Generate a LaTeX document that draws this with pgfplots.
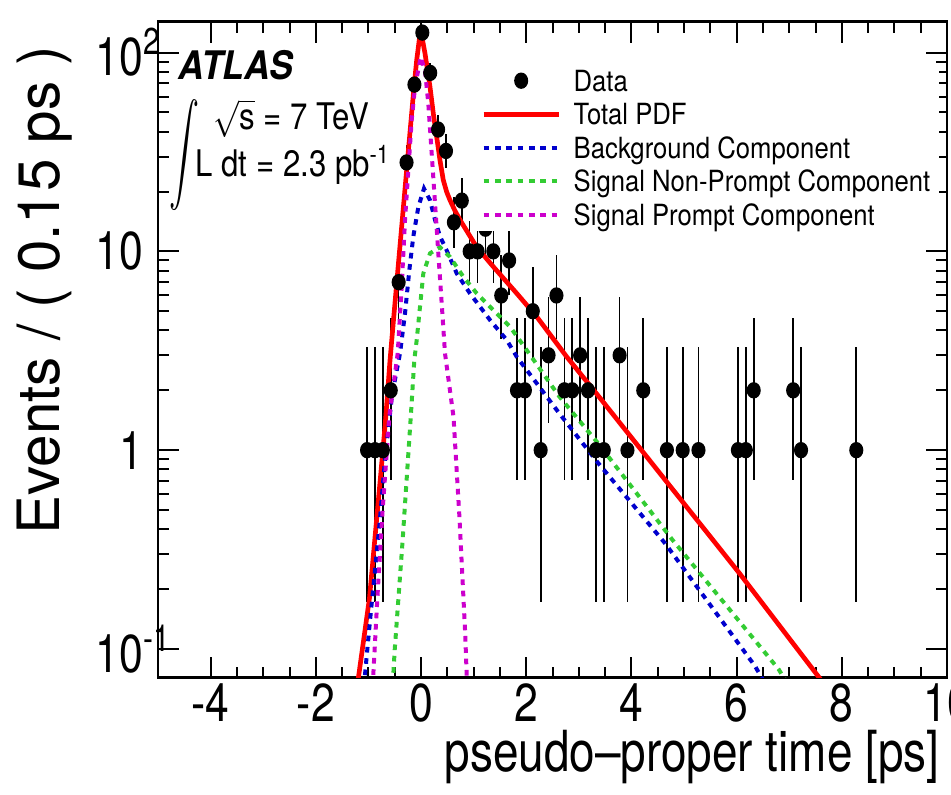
\documentclass[border=0pt]{standalone}
\usepackage{fontspec}
\setmainfont{TeX Gyre Heros}
\usepackage{graphicx}
\usepackage{pgfplots}
\usepackage{pgfplotstable}
\pgfplotsset{compat=1.18}

\definecolor{rootred}{RGB}{255,0,0}
\definecolor{rootblue}{RGB}{0,0,205}
\definecolor{rootgreen}{RGB}{51,204,51}
\definecolor{rootmag}{RGB}{204,0,204}

\pgfplotsset{
  lineleg/.style={legend image code/.code={\draw[##1] (0pt,0pt) -- (22.5pt,0pt); \path (26.3pt,0pt);}},
  dotleg/.style={legend image code/.code={\fill[black] (11.25pt,0pt) ellipse (1.9pt and 2.25pt); \path (0pt,0pt) (26.3pt,0pt);}},
}

% binned data: centre, count, lower and upper (Poisson) errors
\pgfplotstableread{
x      n    em     ep
-1.025 1    0.827  2.300
-0.875 1    0.827  2.300
-0.725 1    0.827  2.300
-0.575 2    1.292  2.638
-0.425 7    2.581  3.770
-0.275 28   5.22   6.36
-0.125 69   8.24   9.35
0.025  126  11.15  12.26
0.175  79   8.82   9.93
0.325  41   6.33   7.46
0.475  32   5.59   6.72
0.625  14   3.59   4.80
0.775  18   4.17   5.33
0.925  10   3.086  4.27
1.075  10   3.086  4.27
1.225  13   3.53   4.67
1.375  10   3.086  4.27
1.525  6    2.38   3.58
1.675  9    2.934  4.11
1.825  2    1.292  2.638
1.975  2    1.292  2.638
2.125  5    2.16   3.38
2.275  1    0.827  2.300
2.425  3    1.633  2.918
2.575  6    2.38   3.58
2.725  2    1.292  2.638
2.875  2    1.292  2.638
3.025  3    1.633  2.918
3.175  2    1.292  2.638
3.325  1    0.827  2.300
3.475  1    0.827  2.300
3.775  3    1.633  2.918
3.925  1    0.827  2.300
4.225  2    1.292  2.638
4.675  1    0.827  2.300
4.975  1    0.827  2.300
5.275  1    0.827  2.300
6.025  1    0.827  2.300
6.175  1    0.827  2.300
6.325  2    1.292  2.638
7.075  2    1.292  2.638
7.225  1    0.827  2.300
8.275  1    0.827  2.300
}\datatab

\pgfplotstableread{
x      y
-1.30  0.045
-1.19  0.0718
-0.98  0.18
-0.80  0.6
-0.68  1.35
-0.589 2.84
-0.468 6.64
-0.356 14.4
-0.245 31.1
-0.133 67.2
-0.082 91.5
-0.019 124
0.013  122
0.076  99
0.171  67.2
0.240  48
0.298  37.7
0.361  28.7
0.424  22.8
0.488  19.9
0.551  18.1
0.646  16.0
0.741  14.4
0.90   12.3
1.059  10.5
1.375  8.37
1.819  6.15
2.20   4.69
2.77   2.95
3.34   1.92
6.05   0.241
7.57   0.0718
7.80   0.058
}\totpdf

\pgfplotstableread{
x      y
-1.15  0.05
-1.07  0.0718
-0.98  0.13
-0.79  0.42
-0.68  0.92
-0.55  1.9
-0.399 3.07
-0.304 4.88
-0.222 8.05
-0.146 11.9
-0.051 16.7
0.057  20.7
0.171  18.1
0.266  14.4
0.361  11.9
0.489  10.1
0.679  7.75
0.93   6.15
1.31   4.52
1.63   3.58
1.82   2.95
2.63   1.53
3.37   0.86
4.64   0.34
6.35   0.082
6.50   0.070
}\bkg

\pgfplotstableread{
x      y
-0.60  0.045
-0.53  0.0718
-0.50  0.099
-0.35  0.35
-0.20  1.4
-0.127 2.84
-0.082 3.58
-0.019 5.27
0.044  7.75
0.171  9.77
0.361  10.5
0.551  9.38
0.805  7.45
1.059  6.15
1.375  5.06
1.692  4.18
2.008  3.19
2.63   1.86
3.37   1.08
4.78   0.354
6.80   0.079
6.95   0.068
}\nonprompt

\pgfplotstableread{
x      y
-0.95  0.05
-0.91  0.0718
-0.83  0.18
-0.73  0.5
-0.60  1.5
-0.443 3.07
-0.367 6.64
-0.304 14.4
-0.241 25.5
-0.177 45.7
-0.114 67
-0.006 95
0.076  81
0.139  55.4
0.203  31.1
0.266  17.5
0.329  9.77
0.393  5.48
0.456  3.07
0.618  1.47
0.73   0.464
0.84   0.12
0.87   0.0718
0.90   0.055
}\prompt

\begin{document}
\begin{tikzpicture}
\begin{axis}[
  at={(47.4pt,34.89pt)}, anchor=south west,
  scale only axis, width=236.7pt, height=196.8pt,
  xmin=-5, xmax=10,
  ymode=log, ymin=0.0717, ymax=143,
  xtick={-4,-2,0,2,4,6,8,10},
  xticklabels={-4,-2,0,2,4,6,8,10},
  minor x tick num=3,
  ytick={0.1,1,10,100},
  yticklabels={10\rlap{\textsuperscript{-1}},1,10,10\rlap{\textsuperscript{2}}},
  major tick length=6.3pt, minor tick length=3.3pt,
  axis line style={line width=0.8pt},
  tick style={black, line width=0.6pt},
  tick label style={font=\fontsize{16}{16}\selectfont, xscale=0.8, inner sep=0pt},
  xticklabel style={anchor=north, yshift=-1.6pt},
  yticklabel style={anchor=east, xshift=-5.4pt},
  xlabel={pseudo--proper time [ps]},
  xlabel style={at={(axis description cs:0.991,-0.1437)}, anchor=base east,
    font=\fontsize{17}{17}\selectfont, xscale=0.81, inner sep=0pt},
  ylabel={Events / ( 0.15 ps )},
  ylabel style={at={(axis description cs:-0.1432,0.591)}, anchor=center,
    font=\fontsize{17.5}{17.5}\selectfont, inner sep=0pt},
  legend cell align=left,
  legend style={at={(axis description cs:0.3984,0.9366)}, anchor=north west,
    draw=none, fill=white, inner xsep=2.5pt, inner ysep=0pt, row sep=0pt,
    column sep=0pt,
    font=\fontsize{8.75}{9}\selectfont,
    nodes={inner sep=0pt, text height=8.2pt, text depth=1.85pt, xscale=0.88, anchor=west}},
]
\addplot[only marks, mark=*, mark size=2.25pt, mark options={xscale=0.85}, black, dotleg,
  error bars/.cd, y dir=both, y explicit, error mark=none,
  error bar style={line width=0.5pt, black}]
  table[x=x, y=n, y error minus=em, y error plus=ep] {\datatab};
\addlegendentry{Data}
\addplot[rootred, line width=1.4pt, mark=none, line join=round, lineleg]
  table[x=x, y=y] {\totpdf};
\addlegendentry{Total PDF}
\addplot[rootblue, line width=1.2pt, dash pattern=on 1.7pt off 1.7pt, mark=none, lineleg]
  table[x=x, y=y] {\bkg};
\addlegendentry{Background Component}
\addplot[rootgreen, line width=1.2pt, dash pattern=on 1.7pt off 1.7pt, mark=none, lineleg]
  table[x=x, y=y] {\nonprompt};
\addlegendentry{Signal Non-Prompt Component}
\addplot[rootmag, line width=1.2pt, dash pattern=on 1.7pt off 1.7pt, mark=none, lineleg]
  table[x=x, y=y] {\prompt};
\addlegendentry{Signal Prompt Component}
\end{axis}
% annotations, placed in image pixel coordinates (y downwards)
\begin{scope}[x=0.3pt, y=-0.3pt, yshift=238.2pt]
  \node[anchor=base west, inner sep=0pt, xscale=0.9,
    font=\fontsize{11.8}{12}\selectfont\bfseries\itshape] at (178,80) {ATLAS};
  \node[inner sep=0pt, xscale=0.9, yscale=1.5] at (184,155) {$\displaystyle\int$};
  \node[anchor=base west, inner sep=0pt, xscale=0.85,
    font=\fontsize{11}{12}\selectfont] at (213,130) {$\sqrt{\mbox{s}}$ = 7 TeV};
  \node[anchor=base west, inner sep=0pt, xscale=0.85,
    font=\fontsize{11}{12}\selectfont] at (195,176.7) {L dt = 2.3 pb\textsuperscript{-1}};
\end{scope}
\pgfresetboundingbox
\useasboundingbox (0,0) rectangle (285.3pt,238.2pt);
\end{tikzpicture}
\end{document}
